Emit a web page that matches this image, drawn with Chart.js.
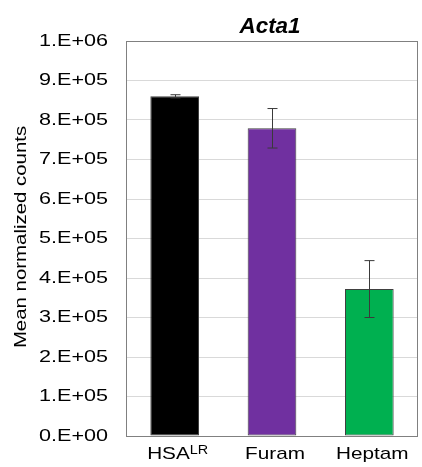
<!DOCTYPE html>
<html>
<head>
<meta charset="utf-8">
<script src="https://cdn.jsdelivr.net/npm/chart.js@4.4.1/dist/chart.umd.min.js"></script>
<style>
  html, body { margin: 0; padding: 0; background: #fff; }
  #wrap { width: 422px; height: 467px; }
</style>
</head>
<body>
<div id="wrap"><canvas id="acta1"></canvas></div>
<script>
// Acta1 expression per group
const groups = ['HSA', 'Furam', 'Heptam'];
const groupSup = ['LR', '', ''];
const meanCounts = [860000, 779000, 372000];
const errCounts = [4000, 50000, 72000];
const barColors = ['#000000', '#7030a0', '#00b050'];
const yTicks = ['0.E+00', '1.E+05', '2.E+05', '3.E+05', '4.E+05', '5.E+05',
                '6.E+05', '7.E+05', '8.E+05', '9.E+05', '1.E+06'];

const FONT = '"Liberation Sans", Arial, sans-serif';
const STRETCH = 1.27; // wide glyphs

// draws text squeezed/stretched horizontally around (x, y)
function wideText(ctx, text, x, y, align, sx) {
    ctx.save();
    ctx.translate(x, y);
    ctx.scale(sx, 1);
    ctx.textAlign = align;
    ctx.fillText(text, 0, 0);
    ctx.restore();
}

const errorBars = {
    id: 'errorBars',
    afterDatasetsDraw(chart) {
        const ctx = chart.ctx;
        const x = chart.scales.x, y = chart.scales.y;
        ctx.save();
        ctx.strokeStyle = '#3a3a3a';
        ctx.lineWidth = 1;
        meanCounts.forEach((m, i) => {
            const px = Math.round(x.getPixelForValue(i)) + 0.5;
            const top = y.getPixelForValue(m + errCounts[i]);
            const bot = y.getPixelForValue(m - errCounts[i]);
            ctx.beginPath();
            ctx.moveTo(px, top); ctx.lineTo(px, bot);
            ctx.moveTo(px - 5, top); ctx.lineTo(px + 5, top);
            ctx.moveTo(px - 5, bot); ctx.lineTo(px + 5, bot);
            ctx.stroke();
        });
        ctx.restore();
    }
};

const labelsAndFrame = {
    id: 'labelsAndFrame',
    afterDraw(chart) {
        const ctx = chart.ctx;
        const a = chart.chartArea;
        const x = chart.scales.x, y = chart.scales.y;
        ctx.save();

        // plot frame
        ctx.strokeStyle = '#808080';
        ctx.lineWidth = 1;
        ctx.strokeRect(Math.round(a.left) + 0.5, Math.round(a.top) + 0.5,
                       Math.round(a.right - a.left) - 1, Math.round(a.bottom - a.top));

        ctx.fillStyle = '#000';

        // title
        ctx.textBaseline = 'alphabetic';
        ctx.font = 'italic bold 22px ' + FONT;
        wideText(ctx, 'Acta1', 270, 33, 'center', 1.02);

        // y tick labels
        ctx.textBaseline = 'middle';
        ctx.font = '17px ' + FONT;
        yTicks.forEach((t, i) => {
            wideText(ctx, t, 108, y.getPixelForValue(i * 100000), 'right', STRETCH);
        });

        // x labels, first one with superscript
        ctx.textBaseline = 'alphabetic';
        groups.forEach((g, i) => {
            const cx = x.getPixelForValue(i) + 3;
            ctx.font = '17px ' + FONT;
            const w = ctx.measureText(g).width * 1.22;
            ctx.font = '12px ' + FONT;
            const ws = groupSup[i] ? ctx.measureText(groupSup[i]).width * 1.2 : 0;
            const left = cx - (w + ws) / 2;
            ctx.font = '17px ' + FONT;
            wideText(ctx, g, left, 459, 'left', 1.22);
            if (ws) {
                ctx.font = '12px ' + FONT;
                wideText(ctx, groupSup[i], left + w, 454, 'left', 1.2);
            }
        });

        // y axis title
        ctx.translate(21, 237);
        ctx.rotate(-Math.PI / 2);
        ctx.scale(1.2, 1);
        ctx.font = '17px ' + FONT;
        ctx.textAlign = 'center';
        ctx.textBaseline = 'middle';
        ctx.fillText('Mean normalized counts', 0, 0);
        ctx.restore();
    }
};

new Chart(document.getElementById('acta1'), {
    type: 'bar',
    data: {
        labels: groups,
        datasets: [{
            data: meanCounts,
            backgroundColor: barColors,
            borderColor: '#404040',
            borderWidth: 1,
            borderSkipped: false,
            barPercentage: 0.5,
            categoryPercentage: 1.0
        }]
    },
    options: {
        responsive: true,
        maintainAspectRatio: false,
        animation: false,
        devicePixelRatio: 1,
        layout: { padding: { left: 126, right: 4, top: 41, bottom: 23 } },
        plugins: {
            legend: { display: false },
            tooltip: { enabled: false }
        },
        scales: {
            x: {
                grid: { display: false },
                border: { display: false },
                ticks: { display: false }
            },
            y: {
                min: 0,
                max: 1000000,
                ticks: { display: false, stepSize: 100000 },
                grid: { color: '#d9d9d9', drawTicks: false },
                border: { display: false }
            }
        }
    },
    plugins: [errorBars, labelsAndFrame]
});
</script>
</body>
</html>
